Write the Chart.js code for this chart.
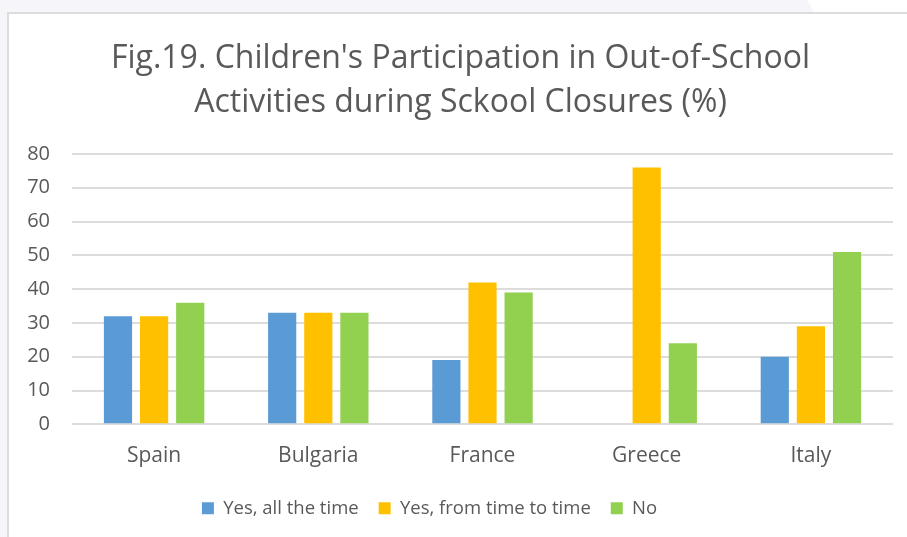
<!DOCTYPE html>
<html>
<head>
<meta charset="utf-8">
<script src="https://cdn.jsdelivr.net/npm/chart.js@4"></script>
<style>
  html, body { margin: 0; padding: 0; }
  body {
    width: 907px; height: 537px; overflow: hidden; position: relative;
    background: #f5f5fa;
  }
  #corner {
    position: absolute; left: 807px; top: 0; width: 120px; height: 14px;
    background: #ffffff; clip-path: polygon(0 0, 100% 0, 100% 100%, 8px 100%);
  }
  #frame {
    position: absolute; left: 7px; top: 12px; width: 912px; height: 530px;
    background: #ffffff; border-left: 2px solid #dcdcdc; border-top: 2px solid #dcdcdc;
  }
</style>
</head>
<body>
<div id="corner"></div>
<div id="frame"><canvas id="chart19" width="912" height="523"></canvas></div>
<script>
// Fig.19 - children's participation in out-of-school activities

const countries = ["Spain", "Bulgaria", "France", "Greece", "Italy"];
const yAllTheTime = [32, 33, 19, 0, 20];
const yFromTimeToTime = [32, 33, 42, 76, 29];
const noValues = [36, 33, 39, 24, 51];
const yTicks = [0, 10, 20, 30, 40, 50, 60, 70, 80];

const textColor = "#595959";
const fontFamily = "'Open Sans', sans-serif";

// moves the legend to where the original has it (a bit left, just under the axis labels)
const legendPlacer = {
  id: 'legendPlacer',
  afterLayout(chart) {
    const lg = chart.legend;
    const dy = 465 - lg.top;
    const dx = -31;
    lg.top += dy; lg.bottom += dy;
    lg.left += dx; lg.right += dx;
  }
};

function renderChart19() {
  const ctx = document.getElementById("chart19").getContext("2d");

  const makeSet = (label, data, color) => ({
    label: label,
    data: data,
    backgroundColor: color,
    borderWidth: 0,
    categoryPercentage: 0.66,
    barPercentage: 0.78
  });

  new Chart(ctx, {
    type: 'bar',
    data: {
      labels: countries,
      datasets: [
        makeSet('Yes, all the time', yAllTheTime, '#5B9BD5'),
        makeSet('Yes, from time to time', yFromTimeToTime, '#FFC000'),
        makeSet('No', noValues, '#92D050')
      ]
    },
    plugins: [legendPlacer],
    options: {
      responsive: false,
      animation: false,
      layout: { padding: { left: 19, right: 28, top: 0, bottom: 0 } },
      plugins: {
        title: {
          display: true,
          text: ["Fig.19. Children's Participation in Out-of-School", "Activities during Sckool Closures (%)"],
          color: textColor,
          font: { family: fontFamily, size: 32, weight: 'normal', lineHeight: 1.375 },
          padding: { top: 23, bottom: 29 }
        },
        legend: {
          position: 'bottom',
          labels: {
            color: textColor,
            font: { family: fontFamily, size: 18.5 },
            boxWidth: 12,
            boxHeight: 12,
            padding: 20
          }
        },
        tooltip: { enabled: false }
      },
      scales: {
        x: {
          grid: { display: false, drawTicks: false },
          border: { display: false },
          ticks: {
            color: textColor,
            font: { family: fontFamily, size: 21 },
            padding: 19.5
          }
        },
        y: {
          min: 0,
          max: 80,
          afterBuildTicks: axis => { axis.ticks = yTicks.map(v => ({ value: v })); },
          afterFit: axis => { axis.width = 44; },
          grid: { color: '#dcdcdc', lineWidth: 2, drawTicks: false },
          border: { display: false },
          ticks: {
            color: textColor,
            font: { family: fontFamily, size: 20 },
            padding: 22
          }
        }
      }
    }
  });
}

renderChart19();
</script>
</body>
</html>
